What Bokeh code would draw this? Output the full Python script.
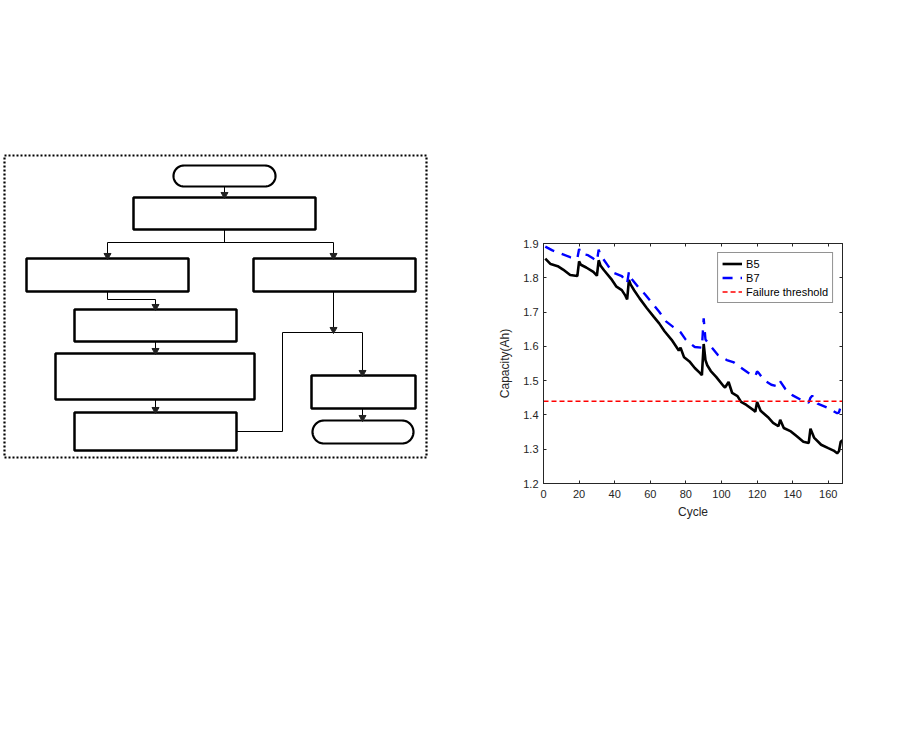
import numpy as np
from bokeh.plotting import figure
from bokeh.layouts import row, column
from bokeh.models import Range1d, LinearAxis, FixedTicker, Spacer
from bokeh.embed import file_html
from bokeh.resources import INLINE

# ---------------- data ----------------
cycles_b5 = [1, 4, 8, 11, 15, 19, 20, 21, 24, 28, 30, 31, 32, 34, 38, 41, 44, 46, 47, 48,
             49, 51, 54, 58, 62, 65, 68, 72, 76, 77, 79, 82, 85, 88, 89, 90, 91, 92, 94, 97,
             101, 102, 104, 106, 109, 111, 114, 118, 119, 120, 122, 126, 129, 132, 133, 135,
             139, 142, 146, 149, 150, 152, 156, 160, 163, 165, 166, 167, 168]
capacity_b5 = [1.856, 1.840, 1.834, 1.824, 1.808, 1.805, 1.848, 1.838, 1.830, 1.817, 1.806, 1.851,
               1.836, 1.822, 1.797, 1.774, 1.764, 1.748, 1.737, 1.794, 1.780, 1.763, 1.740, 1.712,
               1.686, 1.667, 1.644, 1.619, 1.588, 1.596, 1.568, 1.556, 1.537, 1.522, 1.516, 1.607,
               1.560, 1.545, 1.528, 1.511, 1.485, 1.480, 1.496, 1.464, 1.455, 1.438, 1.429, 1.414,
               1.409, 1.438, 1.412, 1.394, 1.377, 1.367, 1.386, 1.362, 1.352, 1.339, 1.322, 1.318,
               1.360, 1.334, 1.313, 1.303, 1.296, 1.288, 1.294, 1.322, 1.326]

cycles_b7 = [1, 5, 10, 15, 19, 20, 21, 25, 28, 30, 31, 32, 36, 39, 44, 47, 48, 49, 54, 57,
             62, 65, 69, 73, 77, 80, 85, 89, 90, 91, 94, 98, 103, 107, 110, 115, 119, 120, 121,
             124, 128, 132, 133, 136, 140, 145, 149, 150, 151, 154, 160, 165, 166, 167, 168]
capacity_b7 = [1.891, 1.880, 1.870, 1.860, 1.856, 1.884, 1.870, 1.866, 1.856, 1.848, 1.882, 1.866,
               1.837, 1.815, 1.805, 1.784, 1.817, 1.800, 1.768, 1.752, 1.720, 1.701, 1.672, 1.656,
               1.641, 1.619, 1.598, 1.596, 1.682, 1.620, 1.600, 1.575, 1.560, 1.553, 1.541, 1.523,
               1.513, 1.527, 1.522, 1.501, 1.488, 1.483, 1.498, 1.475, 1.457, 1.443, 1.436, 1.450,
               1.456, 1.433, 1.420, 1.405, 1.407, 1.425, 1.430]

failure_threshold = 1.44
x_limits = [0, 168]
y_limits = [1.2, 1.9]
x_ticks = [0, 20, 40, 60, 80, 100, 120, 140, 160]
y_ticks = [1.2, 1.3, 1.4, 1.5, 1.6, 1.7, 1.8, 1.9]
series_names = ["B5", "B7", "Failure threshold"]
x_label = "Cycle"
y_label = "Capacity(Ah)"

FONT = "Liberation Sans"
AX = "#262626"
PAGE_H = 753
LEFT_W = 478
RIGHT_W = 422
TOP_SPACER = 200

# ---------------- left: flowchart diagram (page pixel coordinates) ----------------
fa = figure(width=LEFT_W, height=PAGE_H, x_range=Range1d(0, LEFT_W), y_range=Range1d(PAGE_H, 0),
            output_backend="svg", toolbar_location=None, min_border=0,
            x_axis_type=None, y_axis_type=None)
fa.outline_line_color = None
fa.xgrid.visible = False
fa.ygrid.visible = False

# dotted frame
fa.line([4, 426, 426, 4, 4], [155, 155, 457, 457, 155], line_color="black",
        line_width=2.2, line_dash="2 2")

boxes = [(133, 315, 197, 229), (26, 188, 258, 291), (253, 415, 258, 291),
         (74, 236, 309, 341), (55, 254, 353, 399), (74, 236, 412, 450), (311, 415, 375, 408)]
fa.quad(left=[b[0] for b in boxes], right=[b[1] for b in boxes],
        top=[b[2] for b in boxes], bottom=[b[3] for b in boxes],
        fill_color="white", line_color="black", line_width=2.5)


def stadium(x0, x1, y0, y1, n=30):
    r = (y1 - y0) / 2.0
    cy = (y0 + y1) / 2.0
    t = np.linspace(-np.pi / 2, np.pi / 2, n)
    xr = (x1 - r) + r * np.cos(t)
    yr = cy + r * np.sin(t)
    t2 = np.linspace(np.pi / 2, 3 * np.pi / 2, n)
    xl = (x0 + r) + r * np.cos(t2)
    yl = cy + r * np.sin(t2)
    return list(xr) + list(xl), list(yr) + list(yl)


t1 = stadium(173, 275, 165, 186)
t2 = stadium(312, 413, 420, 443)
fa.patches([t1[0], t2[0]], [t1[1], t2[1]], fill_color="white", line_color="black", line_width=2.2)

conn_x = [[224, 224], [224, 224], [107, 333], [107, 107], [333, 333],
          [107, 107, 155, 155], [155, 155], [155, 155], [333, 333], [282, 362],
          [362, 362], [236, 282, 282], [362, 362]]
conn_y = [[186, 195], [229, 242], [242, 242], [242, 256], [242, 256],
          [291, 299, 299, 307], [341, 351], [399, 410], [291, 330], [332, 332],
          [332, 373], [431, 431, 332], [408, 418]]
fa.multi_line(conn_x, conn_y, line_color="black", line_width=1)

tips_x = [224, 107, 333, 155, 155, 155, 333, 362, 362]
tips_y = [197, 258, 258, 309, 353, 412, 332, 375, 420]
fa.scatter(tips_x, [y - 3 for y in tips_y], marker="inverted_triangle", size=7,
           fill_color="#222222", line_color="#222222")

# ---------------- right: capacity chart ----------------
frame_left, frame_right, frame_top, frame_bottom = 543, 842, 243, 483
p_h = PAGE_H - TOP_SPACER
p = figure(width=RIGHT_W, height=p_h, x_range=Range1d(*x_limits), y_range=Range1d(*y_limits),
           output_backend="svg", toolbar_location=None,
           min_border_left=frame_left - LEFT_W,
           min_border_right=LEFT_W + RIGHT_W - frame_right,
           min_border_top=frame_top - TOP_SPACER,
           min_border_bottom=PAGE_H - frame_bottom)
p.xgrid.visible = False
p.ygrid.visible = False
p.outline_line_color = AX
p.background_fill_color = "white"

p.line(cycles_b5, capacity_b5, line_color="black", line_width=2.6, legend_label=series_names[0])
p.line(cycles_b7, capacity_b7, line_color="#0000ff", line_width=2.4, line_dash="10 8",
       legend_label=series_names[1])
p.line(x_limits, [failure_threshold, failure_threshold], line_color="#ff0000", line_width=1.6,
       line_dash="5 3", legend_label=series_names[2])


def style_axis(ax, labels=True):
    ax.axis_line_color = AX
    ax.axis_line_width = 1
    ax.major_tick_line_color = AX
    ax.major_tick_in = 3
    ax.major_tick_out = 0
    ax.minor_tick_line_color = None
    ax.major_label_text_font = FONT
    ax.major_label_text_font_size = "11px" if labels else "0px"
    ax.major_label_text_color = AX if labels else None
    ax.axis_label_text_font = FONT
    ax.axis_label_text_font_size = "12px"
    ax.axis_label_text_font_style = "normal"
    ax.axis_label_text_color = AX


p.xaxis.ticker = FixedTicker(ticks=x_ticks)
p.yaxis.ticker = FixedTicker(ticks=y_ticks)
p.xaxis.axis_label = x_label
p.yaxis.axis_label = y_label
style_axis(p.xaxis[0])
style_axis(p.yaxis[0])
p.xaxis.major_label_standoff = 6
p.xaxis.axis_label_standoff = 4
p.yaxis.major_label_standoff = 5
p.yaxis.axis_label_standoff = 8

top_ax = LinearAxis(ticker=FixedTicker(ticks=x_ticks))
right_ax = LinearAxis(ticker=FixedTicker(ticks=y_ticks))
style_axis(top_ax, labels=False)
style_axis(right_ax, labels=False)
top_ax.major_label_standoff = 0
right_ax.major_label_standoff = 0
p.add_layout(top_ax, "above")
p.add_layout(right_ax, "right")

lg = p.legend[0]
lg.location = "top_right"
lg.margin = 9
lg.padding = 4
lg.spacing = 1
lg.label_height = 13
lg.glyph_height = 13
lg.glyph_width = 20
lg.label_standoff = 4
lg.label_text_font = FONT
lg.label_text_font_size = "11px"
lg.label_text_color = "black"
lg.border_line_color = AX
lg.border_line_width = 1
lg.background_fill_color = "white"
lg.background_fill_alpha = 1

layout = row(column(fa), column(Spacer(width=RIGHT_W, height=TOP_SPACER), p))
open("out.html", "w").write(file_html(layout, INLINE))
